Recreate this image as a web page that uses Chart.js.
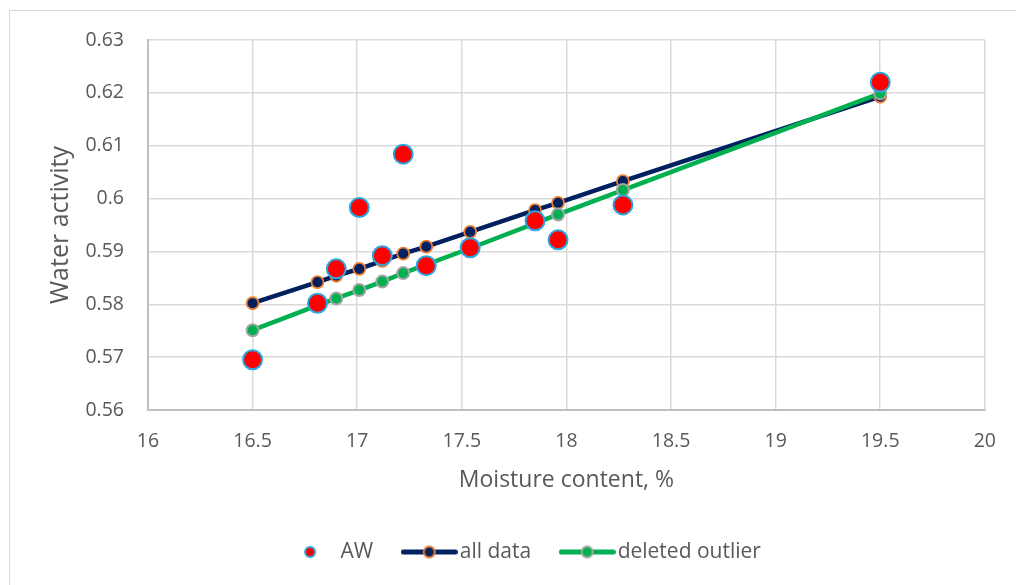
<!DOCTYPE html>
<html>
<head>
<meta charset="utf-8">
<script src="https://cdn.jsdelivr.net/npm/chart.js@4.4.1/dist/chart.umd.min.js"></script>
<style>
  html, body { margin: 0; padding: 0; background: #ffffff; }
  #wrap { position: relative; width: 1016px; height: 585px; overflow: hidden; }
  #frame { position: absolute; left: 9px; top: 10px; width: 1100px; height: 700px; border: 1px solid #d9d9d9; box-sizing: border-box; pointer-events: none; }
  canvas { position: absolute; left: 0; top: 0; }
</style>
</head>
<body>
<div id="wrap">
  <div id="frame"></div>
  <canvas id="c" width="1016" height="585"></canvas>
</div>
<script>
// ---- data ----
const moisture = [16.5, 16.81, 16.9, 17.01, 17.12, 17.22, 17.33, 17.54, 17.85, 17.96, 18.27, 19.5];
const awValues = [0.5695, 0.5802, 0.5867, 0.5983, 0.5892, 0.6084, 0.5873, 0.5907, 0.5958, 0.5922, 0.5988, 0.6220];
const allDataFit = [0.5802, 0.5842, 0.5854, 0.5867, 0.5882, 0.5896, 0.5909, 0.5937, 0.5978, 0.5992, 0.6033, 0.6193];
const deletedOutlierFit = [0.5751, 0.5798, 0.5811, 0.5827, 0.5843, 0.5859, 0.5875, 0.5906, 0.5953, 0.5970, 0.6016, 0.6199];
const seriesNames = ['AW', 'all data', 'deleted outlier'];
const xTitle = 'Moisture content, %';
const yTitle = 'Water activity';
const xRange = [16, 20, 0.5];
const yRange = [0.56, 0.63, 0.01];

const toPoints = (ys) => moisture.map((x, i) => ({ x: x, y: ys[i] }));
const fmt = (v) => String(parseFloat(Number(v).toFixed(4)));

Chart.defaults.font.family = "'Open Sans', sans-serif";
Chart.defaults.color = '#595959';

function legendMarker(fill, stroke, r, bw, lineColor, lineW, width) {
  const c = document.createElement('canvas');
  const h = Math.ceil(2 * r + 2 * bw + 2);
  c.width = width; c.height = h;
  const g = c.getContext('2d');
  if (lineColor) {
    g.strokeStyle = lineColor; g.lineWidth = lineW; g.lineCap = 'round';
    g.beginPath(); g.moveTo(lineW / 2, h / 2); g.lineTo(width - lineW / 2, h / 2); g.stroke();
  }
  g.beginPath(); g.arc(width / 2, h / 2, r, 0, Math.PI * 2);
  g.fillStyle = fill; g.fill();
  g.lineWidth = bw; g.strokeStyle = stroke; g.stroke();
  return c;
}
const legendIcons = [
  legendMarker('#FF0000', '#2AA7E0', 5, 2, null, 0, 16),
  legendMarker('#002060', '#ED7D31', 5.5, 2, '#002060', 5, 57),
  legendMarker('#00B050', '#A5A5A5', 5.5, 2, '#00B050', 5, 57)
];

const legendShift = {
  id: 'legendShift',
  afterLayout(chart) {
    const lg = chart.legend;
    if (lg) { lg.left += 32; lg.right += 32; }
  }
};

new Chart(document.getElementById('c'), {
  type: 'scatter',
  data: {
    datasets: [
      {
        label: seriesNames[0], data: toPoints(awValues), showLine: false,
        pointRadius: 9.5, pointHoverRadius: 9.5,
        backgroundColor: '#FF0000', borderColor: '#2AA7E0', borderWidth: 2,
        pointBackgroundColor: '#FF0000', pointBorderColor: '#2AA7E0', pointBorderWidth: 2,
        order: 0
      },
      {
        label: seriesNames[1], data: toPoints(allDataFit), showLine: true,
        borderColor: '#002060', borderWidth: 4.5, backgroundColor: '#002060',
        pointRadius: 6, pointHoverRadius: 6,
        pointBackgroundColor: '#002060', pointBorderColor: '#ED7D31', pointBorderWidth: 1.8,
        order: 2
      },
      {
        label: seriesNames[2], data: toPoints(deletedOutlierFit), showLine: true,
        borderColor: '#00B050', borderWidth: 4.5, backgroundColor: '#00B050',
        pointRadius: 6, pointHoverRadius: 6,
        pointBackgroundColor: '#00B050', pointBorderColor: '#A5A5A5', pointBorderWidth: 2,
        order: 1
      }
    ]
  },
  options: {
    responsive: false,
    animation: false,
    devicePixelRatio: 1,
    layout: { padding: { top: 40, right: 29, bottom: 12.5, left: 0 } },
    plugins: {
      tooltip: { enabled: false },
      legend: {
        position: 'bottom',
        labels: {
          usePointStyle: true,
          pointStyleWidth: 40,
          padding: 36,
          color: '#595959',
          font: { size: 21 },
          generateLabels(chart) {
            return [0, 1, 2].map((i) => ({
              text: seriesNames[i],
              datasetIndex: i,
              pointStyle: legendIcons[i],
              fillStyle: 'rgba(0,0,0,0)',
              strokeStyle: 'rgba(0,0,0,0)',
              lineWidth: 0,
              fontColor: '#595959',
              hidden: false
            }));
          }
        }
      }
    },
    scales: {
      x: {
        type: 'linear', min: xRange[0], max: xRange[1],
        ticks: { stepSize: xRange[2], padding: 20, color: '#595959', font: { size: 19.5 }, callback: fmt },
        grid: { color: '#d9d9d9', lineWidth: 1.5, drawTicks: false },
        border: { color: '#bfbfbf', width: 2 },
        title: { display: true, text: xTitle, color: '#595959', font: { size: 23 }, padding: { top: 0, bottom: 11.7 } },
        afterFit(scale) { scale.height = 95.5; }
      },
      y: {
        type: 'linear', min: yRange[0], max: yRange[1],
        ticks: { stepSize: yRange[2], padding: 24, color: '#595959', font: { size: 19.5 }, callback: fmt },
        grid: { color: '#d9d9d9', lineWidth: 1.5, drawTicks: false },
        border: { color: '#bfbfbf', width: 2 },
        title: { display: true, text: yTitle, color: '#595959', font: { size: 25 }, padding: { top: 46, bottom: 0 } },
        afterFit(scale) { scale.width = 148; }
      }
    }
  },
  plugins: [legendShift]
});
</script>
</body>
</html>
